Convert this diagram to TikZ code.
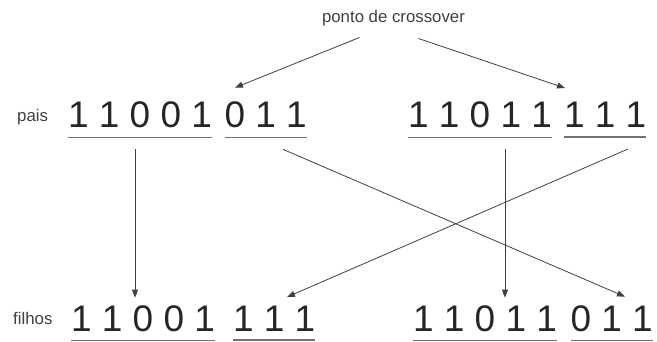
\documentclass[tikz,border=0pt]{standalone}
\usepackage{fontspec}
\setmainfont{Liberation Sans}
\usetikzlibrary{arrows.meta}

\begin{document}
\begin{tikzpicture}[x=1pt,y=-1pt,
	bits/.style={anchor=base west,inner xsep=0pt,inner ysep=9pt,outer sep=0pt,text=black!85,font=\fontsize{37}{40}\selectfont},
	tag/.style={anchor=base west,inner sep=0pt,text=black!75,font=\fontsize{16.8}{20}\selectfont},
	cut/.style={draw=black!55,line width=1.3pt},
	seta/.style={draw=black!75,line width=0.8pt,-{Triangle[length=8pt,width=6pt]}}]
	\useasboundingbox (0,0) rectangle (657,342);

	\node[tag,anchor=base] (ponto)  at (393.5,23)  {ponto de crossover};
	\node[tag]             (pais)   at (17,121.5)  {pais};
	\node[tag]             (filhos) at (13,324)    {filhos};

	% pais
	\node[bits] (p1a) at (68,128)    {1 1 0 0 1};
	\node[bits] (p1b) at (224.5,128) {0 1 1};
	\node[bits] (p2a) at (408,128)   {1 1 0 1 1};
	\node[bits] (p2b) at (564,128)   {1 1 1};

	% filhos
	\node[bits] (c1a) at (71,331)    {1 1 0 0 1};
	\node[bits] (c1b) at (233,331)   {1 1 1};
	\node[bits] (c2a) at (413,331)   {1 1 0 1 1};
	\node[bits] (c2b) at (570.5,331) {0 1 1};

	\draw[cut] (p1a.south west) -- (p1a.south east);
	\draw[cut] (p1b.south west) -- (p1b.south east);
	\draw[cut] (p2a.south west) -- (p2a.south east);
	\draw[cut] (p2b.south west) -- (p2b.south east);
	\draw[cut] (c1a.south west) -- (c1a.south east);
	\draw[cut] (c1b.south west) -- (c1b.south east);
	\draw[cut] (c2a.south west) -- (c2a.south east);
	\draw[cut] (c2b.south west) -- (c2b.south east);

	\draw[seta] ([shift={(-34,14.5)}]ponto.base) -- ([shift={(10.5,-5.5)}]p1b.north west);
	\draw[seta] ([shift={(25,15.5)}]ponto.base)  -- ([shift={(1,-5.5)}]p2b.north west);

	\draw[seta] ([shift={(67,12)}]p1a.south west)   -- ([shift={(64,1.5)}]c1a.north west);
	\draw[seta] ([shift={(97,12)}]p2a.south west)   -- ([shift={(92,1.5)}]c2a.north west);
	\draw[seta] ([shift={(58.5,12)}]p1b.south west) -- ([shift={(54.5,0.5)}]c2b.north west);
	\draw[seta] ([shift={(64,12)}]p2b.south west)   -- ([shift={(54,0.5)}]c1b.north west);
\end{tikzpicture}
\end{document}
